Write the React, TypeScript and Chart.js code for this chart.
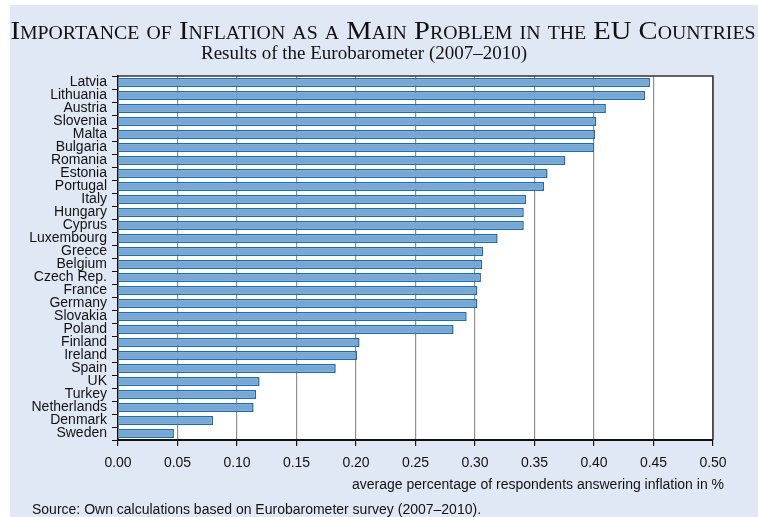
import React, { useEffect, useRef } from "react";
import { Chart, registerables } from "chart.js";

Chart.register(...registerables);

const countries = [
  "Latvia", "Lithuania", "Austria", "Slovenia", "Malta", "Bulgaria", "Romania",
  "Estonia", "Portugal", "Italy", "Hungary", "Cyprus", "Luxembourg", "Greece",
  "Belgium", "Czech Rep.", "France", "Germany", "Slovakia", "Poland", "Finland",
  "Ireland", "Spain", "UK", "Turkey", "Netherlands", "Denmark", "Sweden",
];

const inflationShare = [
  0.447, 0.443, 0.410, 0.402, 0.401, 0.400, 0.376,
  0.361, 0.358, 0.343, 0.341, 0.341, 0.319, 0.307,
  0.306, 0.305, 0.302, 0.302, 0.293, 0.282, 0.203,
  0.201, 0.183, 0.119, 0.116, 0.114, 0.080, 0.047,
];

const xMin = 0;
const xMax = 0.5;
const xStep = 0.05;

const titleText = "Importance of Inflation as a Main Problem in the EU Countries";
const subtitleText = "Results of the Eurobarometer (2007\u20132010)";
const axisTitleText = "average percentage of respondents answering inflation in %";
const sourceText = "Source: Own calculations based on Eurobarometer survey (2007\u20132010).";

const framePlugin = {
  id: "frame",
  beforeDraw(chart: any) {
    const { ctx, chartArea } = chart;
    const { left, top, right, bottom } = chartArea;
    ctx.save();
    ctx.fillStyle = "#ffffff";
    ctx.fillRect(left, top, right - left, bottom - top);
    ctx.restore();
  },
  afterDraw(chart: any) {
    const { ctx, chartArea } = chart;
    const { left, top, right, bottom } = chartArea;
    ctx.save();
    ctx.strokeStyle = "#333333";
    ctx.lineWidth = 1.5;
    ctx.beginPath();
    ctx.moveTo(left, top);
    ctx.lineTo(right, top);
    ctx.lineTo(right, bottom);
    ctx.stroke();
    ctx.fillStyle = "#111111";
    ctx.font = "14px 'Liberation Sans', Arial, sans-serif";
    ctx.textAlign = "right";
    ctx.textBaseline = "middle";
    ctx.fillText(axisTitleText, right + 11, bottom + 45);
    ctx.restore();
  },
};

export default function App() {
  const ref = useRef<HTMLCanvasElement>(null);

  useEffect(() => {
    if (!ref.current) return;
    const chart = new Chart(ref.current, {
      type: "bar",
      data: {
        labels: countries,
        datasets: [
          {
            data: inflationShare,
            backgroundColor: "rgb(119,167,210)",
            borderColor: "rgb(26,110,180)",
            borderWidth: 1.5,
            barPercentage: 0.7,
            categoryPercentage: 1,
          },
        ],
      },
      options: {
        indexAxis: "y",
        animation: false,
        responsive: false,
        layout: { padding: { left: 0, right: 45, top: 76, bottom: 0 } },
        plugins: {
          legend: { display: false },
          tooltip: { enabled: false },
          title: { display: false },
        },
        scales: {
          x: {
            type: "linear",
            min: xMin,
            max: xMax,
            ticks: {
              stepSize: xStep,
              color: "#111111",
              font: { family: "'Liberation Sans', Arial, sans-serif", size: 14 },
              padding: 9,
              callback: (v: any) => Number(v).toFixed(2),
            },
            grid: {
              color: "#909090",
              lineWidth: 1.2,
              tickColor: "#111111",
              tickLength: 6,
            },
            border: { color: "#111111", width: 2 },
            afterFit: (scale: any) => {
              scale.height = 77;
            },
          },
          y: {
            ticks: {
              autoSkip: false,
              color: "#111111",
              font: { family: "'Liberation Sans', Arial, sans-serif", size: 14 },
              padding: 5,
            },
            grid: {
              drawOnChartArea: false,
              tickColor: "#111111",
              tickLength: 6,
            },
            border: { color: "#111111", width: 1.5 },
            afterFit: (scale: any) => {
              scale.width = 118;
            },
          },
        },
      },
      plugins: [framePlugin],
    } as any);
    return () => chart.destroy();
  }, []);

  return (
    <div>
      <div
        style={{
          position: "fixed",
          left: 10,
          top: 5,
          right: 0,
          bottom: 0,
          background: "#e1e8f5",
        }}
      />
      <div
        style={{
          position: "fixed",
          left: 0,
          top: 16,
          width: 766,
          textAlign: "center",
          fontFamily: "'Liberation Serif', 'Times New Roman', serif",
          fontVariant: "small-caps",
          fontSize: 26,
          color: "#111",
          whiteSpace: "nowrap",
          lineHeight: "30px",
          transform: "scaleX(1.1)",
          transformOrigin: "383px 0",
        }}
      >
        {titleText}
      </div>
      <div
        style={{
          position: "fixed",
          left: 0,
          top: 42,
          width: 728,
          textAlign: "center",
          fontFamily: "'Liberation Serif', 'Times New Roman', serif",
          fontSize: 19,
          color: "#111",
          whiteSpace: "nowrap",
          lineHeight: "22px",
        }}
      >
        {subtitleText}
      </div>
      <div
        style={{
          position: "fixed",
          left: 32,
          top: 501,
          fontFamily: "'Liberation Sans', Arial, sans-serif",
          fontSize: 14,
          color: "#111",
          whiteSpace: "nowrap",
          lineHeight: "16px",
        }}
      >
        {sourceText}
      </div>
      <canvas
        ref={ref}
        width={758}
        height={517}
        style={{ position: "fixed", left: 0, top: 0, width: 758, height: 517 }}
      />
    </div>
  );
}
